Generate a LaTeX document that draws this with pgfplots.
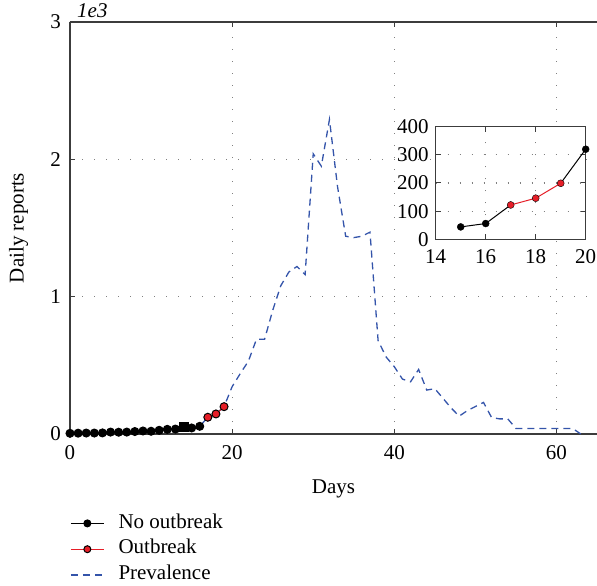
\documentclass[border=0pt]{standalone}
\usepackage{fontspec}
\setmainfont{Liberation Serif}
\usepackage{pgfplots}
\pgfplotsset{compat=1.18}

\definecolor{prevblue}{RGB}{52,84,170}
\definecolor{outred}{RGB}{230,30,40}
\definecolor{axgray}{RGB}{60,60,60}

% daily counts, days 0-20
\pgfplotstableread{
day val
0 5
1 6
2 7
3 7
4 8
5 14
6 13
7 14
8 18
9 22
10 20
11 27
12 34
13 36
14 52
15 44
16 56
17 122
18 146
19 199
20 320
}\early

\pgfplotstableread{
day val
0 5
1 6
2 7
3 7
4 8
5 14
6 13
7 14
8 18
9 22
10 20
11 27
12 34
13 36
14 52
15 44
16 56
17 122
18 146
19 199
20 345
21 440
22 530
23 690
24 690
25 900
26 1080
27 1180
28 1220
29 1160
30 2040
31 1950
32 2290
33 1800
34 1440
35 1430
36 1440
37 1470
38 680
39 560
40 490
41 400
42 380
43 470
44 320
45 330
46 260
47 190
48 130
49 170
50 200
51 230
52 120
53 110
54 110
55 40
56 40
57 40
58 40
59 40
60 40
61 40
62 40
63 0
}\prev

\begin{document}
\fontsize{21}{25}\selectfont
\begin{tikzpicture}
\pgfplotsset{
  every axis/.append style={
    font=\fontsize{21}{25}\selectfont,
    /pgf/number format/assume math mode=true,
    axis line style={axgray, line width=1.2pt},
    tick style={axgray, line width=1pt},
    tick align=inside,
    major tick length=5pt,
    grid=major,
    grid style={gray, line width=1.1pt, dash pattern=on 1pt off 11pt},
  },
}
\begin{axis}[
  name=main,
  scale only axis,
  width=527pt, height=412pt,
  xmin=0, xmax=65, ymin=0, ymax=3000,
  axis x line*=box, axis y line*=left,
  xtick={0,20,40,60},
  ytick={0,1000,2000,3000},
  yticklabels={0,1,2,3},
  xlabel={Days},
  ylabel={Daily reports},
  xticklabel style={yshift=-4pt},
  yticklabel style={xshift=-2pt},
  xlabel style={yshift=-6pt},
  ylabel style={yshift=8pt},
  clip=false,
  legend style={draw=none, fill=none, at={(axis description cs:0,-0.19)}, anchor=north west,
    inner sep=0pt, row sep=4pt, cells={anchor=west},
    nodes={inner sep=1pt, text depth=0.25em}},
  legend cell align=left,
  legend image code/.code={\draw[mark repeat=2,mark phase=2,#1] plot coordinates {(0pt,0pt) (16.5pt,0pt) (33pt,0pt)};},
]
\addplot[prevblue, line width=1.3pt, dash pattern=on 7pt off 5pt, forget plot] table[x=day,y=val] {\prev};
\addplot[black, line width=1pt, mark=*, mark size=4pt, forget plot] table[x=day,y=val,restrict x to domain=0:16] {\early};
\addplot[black, mark=square*, mark size=4.5pt, only marks, forget plot] coordinates {(14,52)};
\addplot[outred, line width=1pt, mark=*, mark size=4pt, mark options={fill=outred, draw=black}, forget plot] table[x=day,y=val,restrict x to domain=17:19] {\early};
\addlegendimage{black, line width=1pt, mark=*, mark size=3.5pt}
\addlegendentry{\hspace*{13pt}No outbreak}
\addlegendimage{outred, line width=1pt, mark=*, mark size=3.5pt, mark options={fill=outred, draw=black}}
\addlegendentry{\hspace*{13pt}Outbreak}
\addlegendimage{prevblue, line width=1.3pt, dash pattern=on 7pt off 5pt}
\addlegendentry{\hspace*{13pt}Prevalence}
\node[anchor=south west, inner sep=0pt, font=\fontsize{21}{25}\selectfont\itshape] at ([xshift=7pt,yshift=4pt]rel axis cs:0,1) {1e3};
\coordinate (bl) at (rel axis cs:0,0);
\coordinate (tr) at (rel axis cs:1,1);
\end{axis}

\begin{axis}[
  scale only axis,
  at={(365.7pt,194.7pt)}, anchor=south west,
  width=150pt, height=112.6pt,
  xmin=14, xmax=20, ymin=0, ymax=400,
  xtick={14,16,18,20},
  ytick={0,100,200,300,400},
  axis background/.style={fill=white},
  xticklabel style={yshift=-3pt},
  clip=false,
]
\addplot[black, line width=1pt, unbounded coords=jump] coordinates {(15,44) (16,56) (17,122) (19,nan) (19,199) (20,320)};
\addplot[outred, line width=1pt] table[x=day,y=val,restrict x to domain=17:19] {\early};
\addplot[black, only marks, mark=*, mark size=3.5pt] coordinates {(15,44) (16,56) (20,320)};
\addplot[only marks, mark=*, mark size=3.5pt, mark options={fill=outred, draw=black}] coordinates {(17,122) (18,146) (19,199)};
\end{axis}

\pgfresetboundingbox
\path[use as bounding box] ([shift={(-70pt,-151pt)}]bl) rectangle ([shift={(0pt,22pt)}]tr);
\end{tikzpicture}
\end{document}
